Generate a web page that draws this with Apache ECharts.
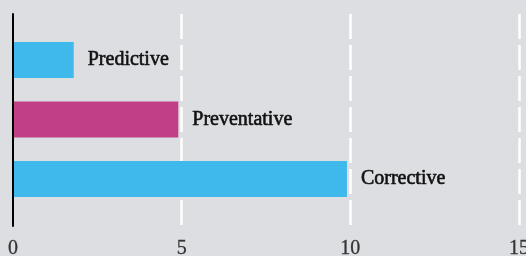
<!DOCTYPE html>
<html>
<head>
<meta charset="utf-8">
<script src="https://cdn.jsdelivr.net/npm/echarts@6/dist/echarts.min.js"></script>
<style>
html,body{margin:0;padding:0;background:#dddee2;}
#c{width:526px;height:256px;}
</style>
</head>
<body>
<div id="c"></div>
<script>
const categories = ["Predictive", "Preventative", "Corrective"];
const values = [1.8, 4.9, 9.9];
const tickValues = [0, 5, 10, 15];

const barColors = ["#3fb8ec", "#c13f85", "#3fb8ec"];
const FONT = "Liberation Serif";

const chart = echarts.init(document.getElementById('c'), null, {renderer: 'canvas'});
chart.setOption({
  backgroundColor: '#dddee2',
  animation: false,
  grid: [
    {left: 13, right: 7, top: 14, bottom: 30, outerBoundsMode: 'none', containLabel: false},
    {left: 13, right: 7, top: 30.25, bottom: 47.25, outerBoundsMode: 'none', containLabel: false}
  ],
  xAxis: [
    {
      gridIndex: 0, type: 'value', min: tickValues[0], max: tickValues[tickValues.length - 1], interval: 5,
      axisLine: {show: false}, axisTick: {show: false},
      axisLabel: {show: true, margin: 13, color: '#333', fontFamily: FONT, fontSize: 20,
        textBorderColor: '#333', textBorderWidth: 0.3},
      splitLine: {show: true, showMinLine: false, lineStyle: {color: '#ffffff', width: 2.5, type: [25, 6]}}
    },
    {
      gridIndex: 1, type: 'value', min: tickValues[0], max: tickValues[tickValues.length - 1],
      show: false
    }
  ],
  yAxis: [
    {
      gridIndex: 0, type: 'category', data: categories, z: 10,
      axisLine: {show: true, lineStyle: {color: '#000', width: 2}},
      axisTick: {show: false}, axisLabel: {show: false}, splitLine: {show: false}
    },
    {
      gridIndex: 1, type: 'category', data: categories, inverse: true, show: false
    }
  ],
  series: [{
    type: 'bar', xAxisIndex: 1, yAxisIndex: 1,
    barWidth: 36,
    data: values.map((v, i) => ({value: v, itemStyle: {color: barColors[i]}})),
    label: {
      show: true, position: 'right', distance: 14,
      formatter: p => p.name,
      fontFamily: FONT, fontSize: 20, color: '#111',
      textBorderColor: '#111', textBorderWidth: 0.6
    }
  }]
});
</script>
</body>
</html>
